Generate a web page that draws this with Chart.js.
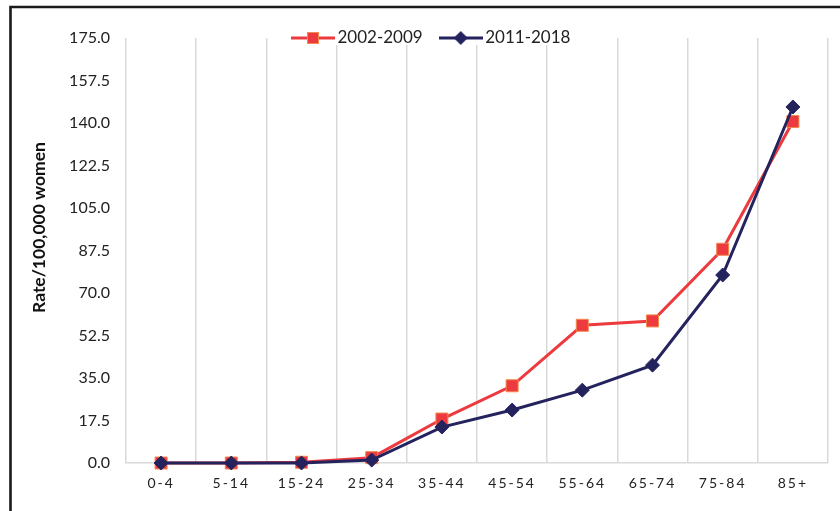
<!DOCTYPE html>
<html>
<head>
<meta charset="utf-8">
<script src="https://cdn.jsdelivr.net/npm/chart.js@4/dist/chart.umd.min.js"></script>
<style>
  html, body { margin: 0; padding: 0; background: #fff; }
  #wrap { width: 840px; height: 511px; position: relative; }
</style>
</head>
<body>
<div id="wrap"><canvas id="rates"></canvas></div>
<script>
"use strict";

// age groups and incidence rates per 100,000 women
const ageGroups = ["0-4", "5-14", "15-24", "25-34", "35-44", "45-54", "55-64", "65-74", "75-84", "85+"];
const rates2002 = [0, 0, 0.3, 2.2, 18.1, 31.8, 56.7, 58.5, 88.0, 140.6];
const rates2011 = [0, 0, 0, 1.2, 14.8, 21.8, 30.0, 40.3, 77.4, 146.6];
const yTicks = [0, 17.5, 35, 52.5, 70, 87.5, 105, 122.5, 140, 157.5, 175];
const seriesNames = ["2002-2009", "2011-2018"];

const RED = "#ec3a3e";
const RED_EDGE = "#f58a4e";
const NAVY = "#24235e";
const GRID = "#d9d9d9";
const FONT = "Lato, 'Open Sans', sans-serif";

// small line+marker swatch for the legend
function swatch(color, style, fill, edge) {
    const c = document.createElement("canvas");
    c.width = 44; c.height = 16;
    const g = c.getContext("2d");
    g.strokeStyle = color; g.lineWidth = 3;
    g.beginPath(); g.moveTo(0, 8); g.lineTo(44, 8); g.stroke();
    g.fillStyle = fill;
    if (style === "rect") {
        g.fillRect(16, 2, 12, 12);
        g.strokeStyle = edge; g.lineWidth = 1;
        g.strokeRect(16.5, 2.5, 11, 11);
    } else {
        g.beginPath();
        g.moveTo(22, 1); g.lineTo(29, 8); g.lineTo(22, 15); g.lineTo(15, 8);
        g.closePath(); g.fill();
    }
    return c;
}
const legendIcons = [swatch(RED, "rect", RED, RED_EDGE), swatch(NAVY, "diamond", NAVY)];

// outer frame (left and top edges visible)
const framePlugin = {
    id: "frame",
    afterDraw(chart) {
        const ctx = chart.ctx;
        ctx.save();
        ctx.strokeStyle = "#1a1a1a";
        ctx.lineWidth = 2.6;
        ctx.beginPath();
        ctx.moveTo(10.5, 520); ctx.lineTo(10.5, 7); ctx.lineTo(850, 7);
        ctx.stroke();
        ctx.restore();
    }
};

// legend sits over the top of the plot, laid out in one row, with a white backing
const legendPlugin = {
    id: "legendPlace",
    beforeLayout(chart) {
        const lg = chart.legend;
        if (lg && !lg._row) {
            lg.isHorizontal = function() { return true; };
            lg._row = true;
        }
    },
    afterLayout(chart) {
        const lg = chart.legend;
        if (!lg) return;
        const pad = lg.options.labels.padding;
        const h = lg.height;
        lg.left = 297 - pad; lg.right = 840;
        lg.top = 38 - pad - 8.5; lg.bottom = lg.top + h;
        if (!lg._backed) {
            const draw = lg.draw.bind(lg);
            lg.draw = function() {
                const ctx = this.ctx;
                ctx.save();
                ctx.fillStyle = "#fff";
                ctx.fillRect(284, 28, 290, 17);
                ctx.restore();
                draw();
            };
            lg._backed = true;
        }
    }
};

// spaced-out category labels on the x axis, y title lifted a little
const axisTextPlugin = {
    id: "axisText",
    afterLayout(chart) {
        const s = chart.scales.x;
        if (!s._spaced) {
            const orig = s.drawLabels.bind(s);
            s.drawLabels = function(area) {
                this.ctx.save();
                this.ctx.letterSpacing = "2px";
                orig(area);
                this.ctx.restore();
            };
            s._spaced = true;
        }
        const y = chart.scales.y;
        if (!y._lifted) {
            const origTitle = y.drawTitle.bind(y);
            y.drawTitle = function() {
                this.ctx.save();
                this.ctx.translate(0, -23);
                origTitle();
                this.ctx.restore();
            };
            y._lifted = true;
        }
    }
};

const ctx = document.getElementById("rates");
new Chart(ctx, {
    type: "line",
    data: {
        labels: ageGroups,
        datasets: [ {
            label: seriesNames[0],
            data: rates2002,
            borderColor: RED,
            backgroundColor: RED,
            borderWidth: 3,
            pointStyle: "rect",
            pointRadius: 8.5,
            pointBackgroundColor: RED,
            pointBorderColor: RED_EDGE,
            pointBorderWidth: 1,
            tension: 0,
            clip: false,
            order: 1
        }, {
            label: seriesNames[1],
            data: rates2011,
            borderColor: NAVY,
            backgroundColor: NAVY,
            borderWidth: 3,
            pointStyle: "rectRot",
            pointRadius: 7,
            pointBackgroundColor: NAVY,
            pointBorderColor: NAVY,
            pointBorderWidth: 1,
            tension: 0,
            clip: false,
            order: 0
        } ]
    },
    options: {
        responsive: true,
        maintainAspectRatio: false,
        animation: false,
        layout: {
            padding: { left: 0, right: 12, top: 38, bottom: 0 }
        },
        plugins: {
            legend: {
                position: "chartArea",
                align: "start",
                labels: {
                    usePointStyle: true,
                    pointStyleWidth: 32,
                    padding: 22,
                    color: "#222",
                    font: { family: FONT, size: 17 },
                    generateLabels(chart) {
                        return chart.data.datasets.map(function(ds, i) {
                            return {
                                text: ds.label,
                                pointStyle: legendIcons[i],
                                fontColor: "#222",
                                lineWidth: 0,
                                strokeStyle: "transparent",
                                fillStyle: "transparent",
                                hidden: false,
                                datasetIndex: i
                            };
                        });
                    }
                }
            },
            tooltip: { enabled: false }
        },
        scales: {
            x: {
                offset: true,
                grid: {
                    offset: true,
                    color: GRID,
                    lineWidth: 1.5,
                    drawTicks: false
                },
                border: { color: GRID, width: 1.5 },
                ticks: {
                    color: "#222",
                    padding: 12,
                    maxRotation: 0,
                    font: { family: FONT, size: 14 }
                },
                afterFit(scale) { scale.height = 48; }
            },
            y: {
                min: 0,
                max: 175,
                grid: { display: false, drawTicks: false },
                border: { display: false },
                afterBuildTicks(scale) {
                    scale.ticks = yTicks.map(function(v) { return { value: v }; });
                },
                ticks: {
                    color: "#222",
                    padding: 16,
                    font: { family: FONT, size: 16 },
                    callback: function(v) { return Number(v).toFixed(1); }
                },
                title: {
                    display: true,
                    text: "Rate/100,000 women",
                    color: "#111",
                    font: { family: FONT, size: 17.5, weight: "bold" },
                    padding: { top: 29, bottom: 0 }
                },
                afterFit(scale) { scale.width = 126; }
            }
        }
    },
    plugins: [framePlugin, legendPlugin, axisTextPlugin]
});
</script>
</body>
</html>
